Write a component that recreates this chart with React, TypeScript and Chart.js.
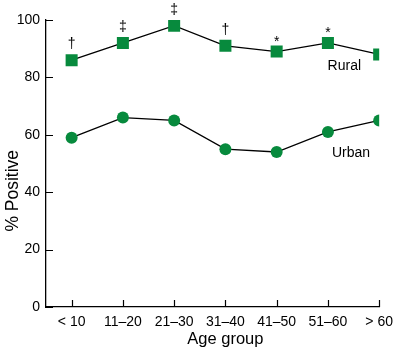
import React, { useEffect, useRef } from "react";
import { Chart, registerables } from "chart.js";

Chart.register(...registerables);

const categories = ["< 10", "11\u201320", "21\u201330", "31\u201340", "41\u201350", "51\u201360", "> 60"];
const ruralValues = [86, 92, 98, 91, 89, 92, 88];
const urbanValues = [59, 66, 65, 55, 54, 61, 65];
const ruralMarks = ["\u2020", "\u2021", "\u2021", "\u2020", "*", "*", ""];
const yTicks = [0, 20, 40, 60, 80, 100];
const xTitle = "Age group";
const yTitle = "% Positive";

const GREEN = "#078a3d";
const FONT = "'Liberation Sans', Arial, sans-serif";

const decorPlugin = {
  id: "decor",
  afterDatasetsDraw(chart: any) {
    const ctx = chart.ctx;
    const xs = chart.scales.x;
    const ys = chart.scales.y;
    const area = chart.chartArea;
    ctx.save();
    // inward ticks
    ctx.strokeStyle = "#000";
    ctx.lineWidth = 1.2;
    ctx.beginPath();
    yTicks.forEach((v) => {
      const y = Math.round(ys.getPixelForValue(v)) + 0.5;
      ctx.moveTo(area.left, y);
      ctx.lineTo(area.left + 7, y);
    });
    categories.forEach((_, i) => {
      const x = Math.round(xs.getPixelForValue(i)) + 0.5;
      ctx.moveTo(x, area.bottom);
      ctx.lineTo(x, area.bottom - 7);
    });
    ctx.stroke();
    // significance marks
    const meta = chart.getDatasetMeta(0);
    ctx.fillStyle = "#000";
    ctx.font = `14px ${FONT}`;
    ctx.textAlign = "center";
    ctx.textBaseline = "alphabetic";
    meta.data.forEach((pt: any, i: number) => {
      const m = ruralMarks[i];
      if (!m) return;
      ctx.fillText(m, pt.x, pt.y - (m === "*" ? 6 : 12));
    });
    // series labels
    ctx.font = `14px ${FONT}`;
    ctx.textAlign = "center";
    ctx.textBaseline = "middle";
    ctx.fillText("Rural", xs.getPixelForValue(5.32), ys.getPixelForValue(84));
    ctx.fillText("Urban", xs.getPixelForValue(5.45), ys.getPixelForValue(53.5));
    // axis titles
    ctx.font = `16.5px ${FONT}`;
    ctx.textBaseline = "alphabetic";
    ctx.fillText(xTitle, xs.getPixelForValue(3.0), 344);
    ctx.save();
    ctx.translate(18, ys.getPixelForValue(40.5));
    ctx.rotate(-Math.PI / 2);
    ctx.font = `17.5px ${FONT}`;
    ctx.fillText(yTitle, 0, 0);
    ctx.restore();
    ctx.restore();
  },
};

export default function App() {
  const ref = useRef<HTMLCanvasElement | null>(null);
  useEffect(() => {
    if (!ref.current) return;
    const chart = new Chart(ref.current, {
      type: "line",
      data: {
        datasets: [
          {
            label: "Rural",
            data: ruralValues.map((v, i) => ({ x: i, y: v })),
            borderColor: "#000",
            borderWidth: 1.3,
            backgroundColor: GREEN,
            pointBackgroundColor: GREEN,
            pointBorderWidth: 0,
            pointStyle: "rect",
            pointRadius: 8.5,
            tension: 0,
          },
          {
            label: "Urban",
            data: urbanValues.map((v, i) => ({ x: i, y: v })),
            borderColor: "#000",
            borderWidth: 1.3,
            backgroundColor: GREEN,
            pointBackgroundColor: GREEN,
            pointBorderWidth: 0,
            pointStyle: "circle",
            pointRadius: 6,
            tension: 0,
          },
        ],
      },
      options: {
        animation: false,
        responsive: false,
        maintainAspectRatio: false,
        layout: { padding: { top: 20, right: 16, left: 0, bottom: 0 } },
        plugins: { legend: { display: false }, tooltip: { enabled: false } },
        scales: {
          x: {
            type: "linear",
            min: -0.5,
            max: 6,
            afterBuildTicks: (scale: any) => {
              scale.ticks = categories.map((_, i) => ({ value: i }));
            },
            afterFit: (scale: any) => {
              scale.height = 42;
            },
            grid: { display: false, drawTicks: false },
            border: { display: true, color: "#000", width: 1.3 },
            ticks: {
              autoSkip: false,
              maxRotation: 0,
              padding: 7,
              color: "#000",
              font: { family: FONT, size: 14 },
              callback: (v: any) => categories[v] ?? "",
            },
            title: { display: false },
          },
          y: {
            type: "linear",
            min: 0,
            max: 100,
            afterBuildTicks: (scale: any) => {
              scale.ticks = yTicks.map((v) => ({ value: v }));
            },
            afterFit: (scale: any) => {
              scale.width = 46;
            },
            grid: { display: false, drawTicks: false },
            border: { display: true, color: "#000", width: 1.3 },
            ticks: {
              padding: 6,
              color: "#000",
              font: { family: FONT, size: 14 },
            },
            title: { display: false },
          },
        },
      },
      plugins: [decorPlugin],
    } as any);
    return () => chart.destroy();
  }, []);
  return (
    <div style={{ position: "absolute", left: 0, top: 0, width: 400, height: 349, background: "#fff" }}>
      <canvas ref={ref} width={400} height={349} style={{ width: 400, height: 349 }} />
    </div>
  );
}
